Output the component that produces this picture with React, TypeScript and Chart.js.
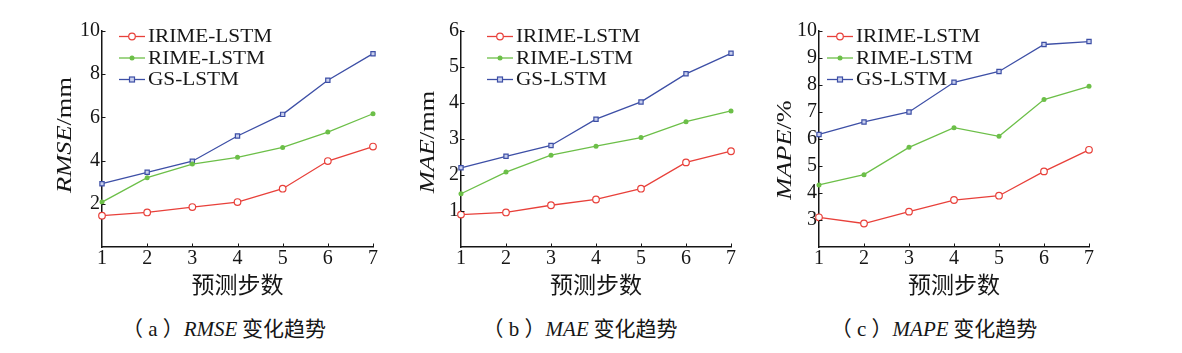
import React, { useEffect, useRef } from "react";
import { Chart, registerables } from "chart.js";

Chart.register(...registerables);

const steps = ["1", "2", "3", "4", "5", "6", "7"];
const seriesNames = ["IRIME-LSTM", "RIME-LSTM", "GS-LSTM"];

const rmseIrime = [1.45, 1.6, 1.85, 2.08, 2.7, 3.98, 4.65];
const rmseRime = [2.08, 3.21, 3.84, 4.15, 4.61, 5.32, 6.17];
const rmseGs = [2.93, 3.46, 3.97, 5.14, 6.14, 7.72, 8.95];

const maeIrime = [0.9, 0.96, 1.16, 1.32, 1.62, 2.35, 2.66];
const maeRime = [1.48, 2.08, 2.55, 2.8, 3.04, 3.48, 3.78];
const maeGs = [2.2, 2.52, 2.82, 3.55, 4.03, 4.81, 5.38];

const mapeIrime = [3.1, 2.87, 3.31, 3.74, 3.9, 4.8, 5.6];
const mapeRime = [4.3, 4.68, 5.69, 6.42, 6.1, 7.46, 7.95];
const mapeGs = [6.17, 6.63, 7.0, 8.1, 8.5, 9.5, 9.61];

const COLORS = ["#e8403a", "#6cbf48", "#3d4fa6"];
const SERIF = "'Liberation Serif', 'Times New Roman', serif";
const CJK = "'Noto Sans CJK SC', sans-serif";
const INK = "#161616";

type Panel = {
  key: string;
  letter: string;
  metric: string;
  unit: string;
  data: number[][];
  yMin: number;
  yMax: number;
  step: number;
  areaLeft: number;
  areaRight: number;
  legendOff: number;
  titleOff: number;
  titleY: number;
  captionCenter: number;
};

const panels: Panel[] = [
  { key: "a", letter: "a", metric: "RMSE", unit: "/mm", data: [rmseIrime, rmseRime, rmseGs], yMin: 0, yMax: 10, step: 2, areaLeft: 102, areaRight: 373, legendOff: 17, titleOff: 37, titleY: 135, captionCenter: 224 },
  { key: "b", letter: "b", metric: "MAE", unit: "/mm", data: [maeIrime, maeRime, maeGs], yMin: 0, yMax: 6, step: 1, areaLeft: 461, areaRight: 731, legendOff: 26, titleOff: 33, titleY: 142, captionCenter: 580 },
  { key: "c", letter: "c", metric: "MAPE", unit: "/%", data: [mapeIrime, mapeRime, mapeGs], yMin: 2, yMax: 10, step: 1, areaLeft: 819, areaRight: 1089, legendOff: 8, titleOff: 34, titleY: 150, captionCenter: 934 },
];

const Y_AXIS_W = 62;
const RIGHT_PAD = 17;
const TOP_PAD = 31;
const X_AXIS_H = 53;
const CANVAS_H = 300;

function drawMarker(ctx: CanvasRenderingContext2D, idx: number, x: number, y: number) {
  ctx.save();
  ctx.strokeStyle = COLORS[idx];
  ctx.lineWidth = 1.2;
  if (idx === 0) {
    ctx.fillStyle = "#fff";
    ctx.beginPath();
    ctx.arc(x, y, 3.3, 0, Math.PI * 2);
    ctx.fill();
    ctx.stroke();
  } else if (idx === 1) {
    ctx.fillStyle = COLORS[1];
    ctx.beginPath();
    ctx.arc(x, y, 2.5, 0, Math.PI * 2);
    ctx.fill();
  } else {
    ctx.fillStyle = "#c9d0ee";
    ctx.fillRect(x - 2.5, y - 2.5, 5, 5);
    ctx.strokeRect(x - 2.5, y - 2.5, 5, 5);
  }
  ctx.restore();
}

function PanelChart({ p }: { p: Panel }) {
  const ref = useRef<HTMLCanvasElement | null>(null);
  const canvasLeft = p.areaLeft - Y_AXIS_W;
  const canvasW = p.areaRight - canvasLeft + RIGHT_PAD;

  useEffect(() => {
    if (!ref.current) return;
    const extras = {
      id: "extras" + p.key,
      afterDraw(chart: any) {
        const ctx: CanvasRenderingContext2D = chart.ctx;
        const area = chart.chartArea;
        const xs = chart.scales.x;
        const ys = chart.scales.y;
        // inward ticks
        ctx.save();
        ctx.strokeStyle = INK;
        ctx.lineWidth = 1;
        ctx.beginPath();
        for (let i = 1; i < steps.length; i++) {
          const x = Math.round(xs.getPixelForValue(i)) + 0.5;
          ctx.moveTo(x, area.bottom);
          ctx.lineTo(x, area.bottom - 3.5);
        }
        ys.ticks.forEach((t: any) => {
          if (t.value === p.yMin) return;
          const y = Math.round(ys.getPixelForValue(t.value)) + 0.5;
          ctx.moveTo(area.left, y);
          ctx.lineTo(area.left + 3.5, y);
        });
        ctx.stroke();
        ctx.restore();

        // legend
        const rows = [36.5, 58, 79.5];
        const lx = area.left + p.legendOff;
        chart.data.datasets.forEach((ds: any, i: number) => {
          const y = rows[i];
          ctx.save();
          ctx.strokeStyle = COLORS[i];
          ctx.lineWidth = 1.3;
          ctx.beginPath();
          ctx.moveTo(lx, y);
          ctx.lineTo(lx + 26, y);
          ctx.stroke();
          ctx.restore();
          drawMarker(ctx, i, lx + 13, y);
          ctx.save();
          ctx.fillStyle = INK;
          ctx.font = `19px ${SERIF}`;
          ctx.textBaseline = "middle";
          ctx.textAlign = "left";
          ctx.translate(lx + 29, y + 1);
          ctx.scale(1.12, 1);
          ctx.fillText(ds.label, 0, 0);
          ctx.restore();
        });

        // y-axis title with italic metric
        ctx.save();
        ctx.fillStyle = INK;
        ctx.textBaseline = "middle";
        ctx.textAlign = "left";
        ctx.translate(area.left - p.titleOff, p.titleY);
        ctx.rotate(-Math.PI / 2);
        ctx.scale(1.2, 1);
        const fItal = `italic 22px ${SERIF}`;
        const fReg = `22px ${SERIF}`;
        ctx.font = fItal;
        const w1 = ctx.measureText(p.metric).width;
        ctx.font = fReg;
        const w2 = ctx.measureText(p.unit).width;
        const start = -(w1 + w2) / 2;
        ctx.font = fItal;
        ctx.fillText(p.metric, start, 0);
        ctx.font = fReg;
        ctx.fillText(p.unit, start + w1, 0);
        ctx.restore();
      },
    };

    const chart = new Chart(ref.current, {
      type: "line",
      data: {
        labels: steps,
        datasets: p.data.map((d, i) => ({
          label: seriesNames[i],
          data: d,
          borderColor: COLORS[i],
          backgroundColor: i === 0 ? "#ffffff" : i === 1 ? COLORS[1] : "#c9d0ee",
          pointBorderColor: COLORS[i],
          borderWidth: 1.3,
          pointStyle: i === 2 ? "rect" : "circle",
          pointRadius: i === 0 ? 3.3 : i === 1 ? 2.5 : 3,
          pointBorderWidth: i === 1 ? 0 : 1.2,
          tension: 0,
          clip: false as any,
        })),
      },
      options: {
        animation: false,
        responsive: false,
        maintainAspectRatio: false,
        layout: { padding: { left: 0, right: RIGHT_PAD, top: TOP_PAD, bottom: 0 } },
        plugins: {
          legend: { display: false },
          tooltip: { enabled: false },
          title: { display: false },
        },
        scales: {
          x: {
            type: "category",
            offset: false,
            grid: { display: false, drawTicks: false },
            border: { display: true, color: INK, width: 1.5 },
            ticks: {
              color: INK,
              font: { family: SERIF, size: 20 },
              padding: 0,
              maxRotation: 0,
              autoSkip: false,
            },
            title: {
              display: true,
              text: "预测步数",
              color: INK,
              font: { family: CJK, size: 23 },
              padding: { top: 0, bottom: 2 },
            },
            afterFit(scale: any) {
              scale.height = X_AXIS_H;
            },
          },
          y: {
            min: p.yMin,
            max: p.yMax,
            grid: { display: false, drawTicks: false },
            border: { display: true, color: INK, width: 1.5 },
            ticks: {
              stepSize: p.step,
              color: INK,
              font: { family: SERIF, size: 20 },
              padding: 2,
              callback: (v: any) => (Number(v) === p.yMin ? "" : String(v)),
            },
            afterFit(scale: any) {
              scale.width = Y_AXIS_W;
            },
          },
        },
      },
      plugins: [extras],
    });
    return () => chart.destroy();
  }, []);

  return (
    <canvas
      ref={ref}
      width={canvasW}
      height={CANVAS_H}
      style={{ position: "absolute", left: canvasLeft, top: 0, width: canvasW, height: CANVAS_H }}
    />
  );
}

export default function App() {
  return (
    <div style={{ position: "absolute", left: 0, top: 0, width: 1182, height: 353, background: "#fff", overflow: "hidden" }}>
      {panels.map((p) => (
        <PanelChart key={p.key} p={p} />
      ))}
      {panels.map((p) => (
        <div
          key={"cap" + p.key}
          style={{
            position: "absolute",
            left: p.captionCenter - 150,
            top: 314,
            width: 300,
            textAlign: "center",
            fontFamily: `${SERIF}, ${CJK}`,
            fontSize: 21,
            lineHeight: "26px",
            color: INK,
            whiteSpace: "nowrap",
          }}
        >
          <span style={{ fontFamily: CJK }}>（</span>
          {" " + p.letter + " "}
          <span style={{ fontFamily: CJK }}>）</span>
          <i>{p.metric}</i>
          <span style={{ fontFamily: CJK }}> 变化趋势</span>
        </div>
      ))}
    </div>
  );
}
